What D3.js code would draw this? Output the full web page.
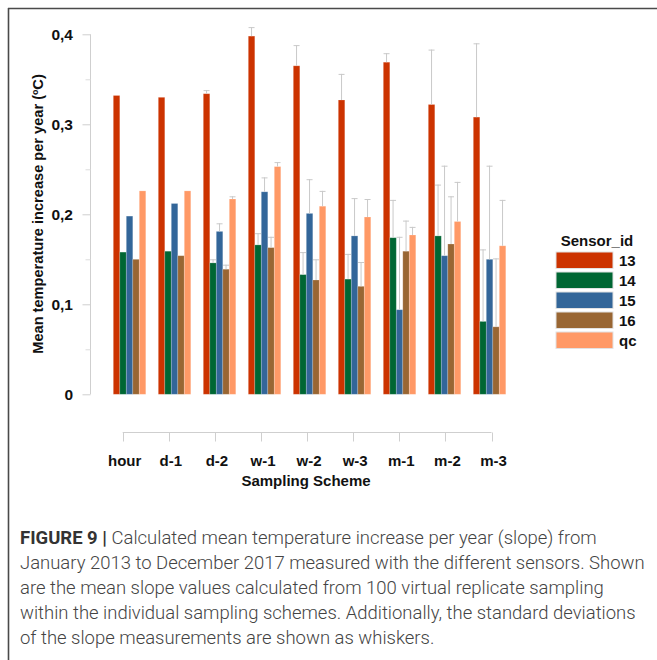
<!DOCTYPE html>
<html>
<head>
<meta charset="utf-8">
<script src="https://cdn.jsdelivr.net/npm/d3@7"></script>
<style>
  html, body { margin: 0; padding: 0; background: #fff; }
  svg { display: block; }
</style>
</head>
<body>
<svg id="chart" width="657" height="660"></svg>
<script>
// Sampling schemes (x categories)
const schemes = ["hour", "d-1", "d-2", "w-1", "w-2", "w-3", "m-1", "m-2", "m-3"];
// Sensors (series)
const sensors = ["13", "14", "15", "16", "qc"];
const sensorColors = ["#cc3300", "#006633", "#336699", "#996633", "#ff9966"];

// Mean slope (°C per year) per sensor, one value per sampling scheme
const slope13 = [0.332, 0.330, 0.334, 0.398, 0.365, 0.327, 0.369, 0.322, 0.308];
const slope14 = [0.158, 0.159, 0.146, 0.166, 0.133, 0.128, 0.174, 0.176, 0.081];
const slope15 = [0.198, 0.212, 0.181, 0.225, 0.201, 0.176, 0.094, 0.154, 0.150];
const slope16 = [0.150, 0.154, 0.139, 0.163, 0.127, 0.120, 0.159, 0.167, 0.075];
const slopeQc = [0.226, 0.226, 0.217, 0.253, 0.209, 0.197, 0.177, 0.192, 0.165];

// Standard deviations of the slope (whiskers)
const sd13 = [0, 0, 0.004, 0.010, 0.023, 0.029, 0.010, 0.061, 0.082];
const sd14 = [0, 0, 0.004, 0.013, 0.025, 0.028, 0.042, 0.057, 0.080];
const sd15 = [0, 0, 0.009, 0.016, 0.038, 0.042, 0.081, 0.100, 0.104];
const sd16 = [0, 0, 0.005, 0.012, 0.023, 0.027, 0.034, 0.053, 0.076];
const sdQc = [0, 0, 0.003, 0.005, 0.017, 0.020, 0.009, 0.044, 0.051];

// Y-axis ticks
const yMajorTicks = [0, 0.1, 0.2, 0.3, 0.4];
const yMinorTicks = [0.05, 0.15, 0.25, 0.35];

const slopes = [slope13, slope14, slope15, slope16, slopeQc];
const sds = [sd13, sd14, sd15, sd16, sdQc];

const rows = [];
schemes.forEach((sc, i) => {
  sensors.forEach((se, j) => {
    rows.push({ scheme: sc, sensor: se, value: slopes[j][i], sd: sds[j][i], color: sensorColors[j] });
  });
});

const svg = d3.select("#chart");
const fmt = v => d3.format(".1f")(v).replace(".", ",").replace(/^0,0$/, "0");

// Figure frame
svg.append("line").attr("x1", 8).attr("x2", 657).attr("y1", 8.5).attr("y2", 8.5)
  .attr("stroke", "#4a4a4a").attr("stroke-width", 1.6);
svg.append("line").attr("x1", 8.5).attr("x2", 8.5).attr("y1", 8).attr("y2", 660)
  .attr("stroke", "#4a4a4a").attr("stroke-width", 1.6);

// Scales
const y = d3.scaleLinear().domain([0, 0.4]).range([394.3, 34.3]);
const x0 = d3.scaleBand().domain(schemes).range([113.3, 505.8]).paddingInner(0.278).paddingOuter(0);
const x1 = d3.scaleBand().domain(sensors).range([0, x0.bandwidth()]).padding(0);
const color = d3.scaleOrdinal().domain(sensors).range(sensorColors);
// Category axis below the plot
const xAxisScale = d3.scalePoint().domain(schemes).range([122.7, 491.5]);

const font = "'Liberation Sans', Arial, sans-serif";

// Y axis
const yAxisX = 90.5;
const gy = svg.append("g");
gy.append("line").attr("x1", yAxisX).attr("x2", yAxisX).attr("y1", y(0.4)).attr("y2", y(0))
  .attr("stroke", "#cfcfcf");
gy.selectAll("line.major").data(yMajorTicks).join("line").attr("class", "major")
  .attr("x1", yAxisX - 8).attr("x2", yAxisX).attr("y1", d => y(d) + 0.5).attr("y2", d => y(d) + 0.5)
  .attr("stroke", "#cfcfcf");
gy.selectAll("line.minor").data(yMinorTicks).join("line").attr("class", "minor")
  .attr("x1", yAxisX - 5).attr("x2", yAxisX).attr("y1", d => y(d) + 0.5).attr("y2", d => y(d) + 0.5)
  .attr("stroke", "#dcdcdc");
gy.selectAll("text").data(yMajorTicks).join("text")
  .attr("x", 73).attr("y", d => y(d)).attr("dy", "0.36em")
  .attr("text-anchor", "end")
  .attr("font-family", font).attr("font-weight", "bold").attr("font-size", 15.5)
  .attr("fill", "#111")
  .text(d => fmt(d));

svg.append("text")
  .attr("transform", "translate(38,214) rotate(-90)")
  .attr("text-anchor", "middle").attr("dy", "0.36em")
  .attr("font-family", font).attr("font-weight", "bold").attr("font-size", 14.6)
  .attr("fill", "#111")
  .text("Mean temperature increase per year (\u00baC)");

// Bars
const bars = svg.append("g");
bars.selectAll("rect").data(rows).join("rect")
  .attr("x", d => x0(d.scheme) + x1(d.sensor))
  .attr("y", d => y(d.value))
  .attr("width", x1.bandwidth())
  .attr("height", d => y(0) - y(d.value))
  .attr("fill", d => color(d.sensor))
  .attr("stroke", "rgba(255,255,255,0.25)").attr("stroke-width", 0.8);

// Whiskers (mean + sd)
const wk = svg.append("g").attr("stroke", "#c9c9c9").attr("stroke-width", 1);
const withSd = rows.filter(d => d.sd > 0);
wk.selectAll("line.stem").data(withSd).join("line").attr("class", "stem")
  .attr("x1", d => x0(d.scheme) + x1(d.sensor) + x1.bandwidth() / 2)
  .attr("x2", d => x0(d.scheme) + x1(d.sensor) + x1.bandwidth() / 2)
  .attr("y1", d => y(d.value)).attr("y2", d => y(d.value + d.sd));
wk.selectAll("line.cap").data(withSd).join("line").attr("class", "cap")
  .attr("x1", d => x0(d.scheme) + x1(d.sensor) + x1.bandwidth() / 2 - 3)
  .attr("x2", d => x0(d.scheme) + x1(d.sensor) + x1.bandwidth() / 2 + 3)
  .attr("y1", d => y(d.value + d.sd) + 0.5).attr("y2", d => y(d.value + d.sd) + 0.5);

// X axis
const axisY = 432.5;
const gx = svg.append("g");
gx.append("line").attr("x1", xAxisScale(schemes[0])).attr("x2", xAxisScale(schemes[schemes.length - 1]))
  .attr("y1", axisY).attr("y2", axisY).attr("stroke", "#cfcfcf");
gx.selectAll("line.tick").data(schemes).join("line").attr("class", "tick")
  .attr("x1", d => Math.round(xAxisScale(d)) + 0.5).attr("x2", d => Math.round(xAxisScale(d)) + 0.5)
  .attr("y1", axisY).attr("y2", axisY + 9).attr("stroke", "#cfcfcf");
gx.selectAll("text").data(schemes).join("text")
  .attr("x", d => xAxisScale(d) + 2).attr("y", 461).attr("dy", "0.36em")
  .attr("text-anchor", "middle")
  .attr("font-family", font).attr("font-weight", "bold").attr("font-size", 15)
  .attr("fill", "#111")
  .text(d => d);
svg.append("text")
  .attr("x", 306).attr("y", 481).attr("dy", "0.36em").attr("text-anchor", "middle")
  .attr("font-family", font).attr("font-weight", "bold").attr("font-size", 15)
  .attr("fill", "#111")
  .text("Sampling Scheme");

// Legend
const lg = svg.append("g");
lg.append("text").attr("x", 597).attr("y", 241).attr("dy", "0.36em").attr("text-anchor", "middle")
  .attr("font-family", font).attr("font-weight", "bold").attr("font-size", 15)
  .attr("fill", "#111").text("Sensor_id");
const li = lg.selectAll("g.item").data(sensors).join("g").attr("class", "item")
  .attr("transform", (d, i) => `translate(556,${252 + i * 20})`);
li.append("rect").attr("width", 57).attr("height", 16.5)
  .attr("fill", d => color(d)).attr("stroke", "#e2e2e2").attr("stroke-width", 1);
li.append("text").attr("x", 63).attr("y", 8.5).attr("dy", "0.36em")
  .attr("font-family", font).attr("font-weight", "bold").attr("font-size", 15)
  .attr("fill", "#111").text(d => d);

// Caption: font size chosen so the widest line spans the caption width
const capFont = "Roboto, 'Liberation Sans', sans-serif";
const capLines = [
  "Calculated mean temperature increase per year (slope) from",
  "January 2013 to December 2017 measured with the different sensors. Shown",
  "are the mean slope values calculated from 100 virtual replicate sampling",
  "within the individual sampling schemes. Additionally, the standard deviations",
  "of the slope measurements are shown as whiskers."
];
const capWidth = 625;
const cap = svg.append("g").attr("font-family", capFont).attr("font-size", 16).attr("font-weight", 300);
const probe = cap.append("text").text(capLines[1]);
const capSize = 16 * capWidth / probe.node().getComputedTextLength();
probe.remove();
cap.attr("font-size", capSize);
const first = cap.append("text").attr("x", 20).attr("y", 537).attr("dy", "0.36em");
first.append("tspan").attr("font-weight", 700).attr("fill", "#333").text("FIGURE 9 | ");
first.append("tspan").attr("font-weight", 300).attr("fill", "#444").text(capLines[0]);
capLines.slice(1).forEach((t, i) => {
  cap.append("text").attr("x", 20).attr("y", 562 + i * 25.2).attr("dy", "0.36em")
    .attr("font-weight", 300).attr("fill", "#444").text(t);
});
</script>
</body>
</html>
